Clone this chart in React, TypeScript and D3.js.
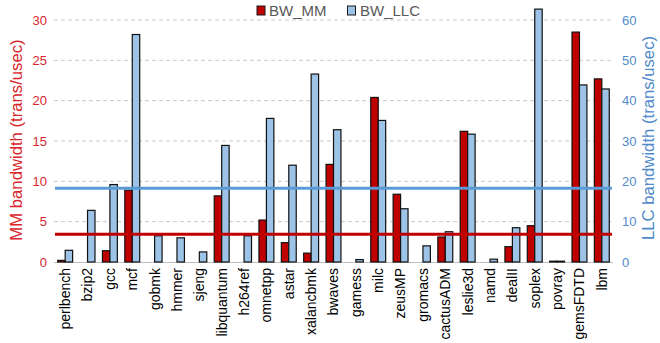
import React from "react";
import * as d3 from "d3";

const categories = ["perlbench","bzip2","gcc","mcf","gobmk","hmmer","sjeng","libquantum","h264ref","omnetpp","astar","xalancbmk","bwaves","gamess","milc","zeusMP","gromacs","cactusADM","leslie3d","namd","dealII","soplex","povray","gemsFDTD","lbm"];
const bwMM = [0.2,0,1.4,8.9,0,0,0,8.2,0,5.2,2.4,1.1,12.1,0,20.4,8.4,0,3.1,16.2,0,1.9,4.5,0.1,28.5,22.7];
const bwLLC = [2.9,12.8,19.2,56.4,6.5,6.0,2.5,28.9,6.5,35.6,24.0,46.6,32.8,0.6,35.1,13.2,4.0,7.5,31.7,0.7,8.5,62.7,0.2,43.9,42.9];
const mmTicks = [0,5,10,15,20,25,30];
const llcTicks = [0,10,20,30,40,50,60];
const mmAvg = 3.44;
const llcAvg = 18.3;

const W = 660, H = 343;
const left = 54, right = 613, top = 20, bottom = 262;
const RED = "#C00000", BLUE_FILL = "#9DC3E6", BLUE = "#5B9BD5";
const RED_TEXT = "#D9262B", BLUE_TEXT = "#4F8ACB";
const FONT = "'Liberation Sans', Arial, sans-serif";

export default function App() {
  const x = d3.scaleBand().domain(categories).range([left, right]).paddingInner(0).paddingOuter(0);
  const inner = d3.scaleBand().domain(["mm","llc"]).range([0, x.bandwidth()]).paddingInner(0).paddingOuter(0.5);
  const yL = d3.scaleLinear().domain([0, 30]).range([bottom, top]);
  const yR = d3.scaleLinear().domain([0, 60]).range([bottom, top]);
  const bw = inner.bandwidth();
  return (
    <svg width={W} height={H} style={{ position: "absolute", left: 0, top: 0, background: "#fff" }} fontFamily={FONT}>
      {mmTicks.slice(1).map(t => (
        <line key={t} x1={left} x2={right} y1={yL(t)} y2={yL(t)} stroke="#C8C8C8" strokeWidth={1} strokeDasharray="4,3" />
      ))}
      <line x1={left} x2={right} y1={bottom + 0.5} y2={bottom + 0.5} stroke="#BFBFBF" strokeWidth={1} />
      {categories.map((c, i) => (
        <g key={c}>
          <rect x={(x(c) as number) + (inner("mm") as number)} y={yL(bwMM[i])} width={bw} height={bottom - yL(bwMM[i])} fill={RED} stroke="#111" strokeWidth={1.2} />
          <rect x={(x(c) as number) + (inner("llc") as number)} y={yR(bwLLC[i])} width={bw} height={bottom - yR(bwLLC[i])} fill={BLUE_FILL} stroke="#111" strokeWidth={1.2} />
        </g>
      ))}
      <line x1={left + 1} x2={right - 1} y1={yL(mmAvg)} y2={yL(mmAvg)} stroke={RED} strokeWidth={3} />
      <line x1={left + 1} x2={right - 1} y1={yR(llcAvg)} y2={yR(llcAvg)} stroke={BLUE} strokeWidth={3} />
      {mmTicks.map(t => (
        <text key={t} x={47} y={yL(t)} dy="0.35em" textAnchor="end" fontSize={13} fill={RED_TEXT}>{t}</text>
      ))}
      {llcTicks.map(t => (
        <text key={t} x={622} y={yR(t)} dy="0.35em" textAnchor="start" fontSize={13} fill={BLUE_TEXT}>{t}</text>
      ))}
      {categories.map(c => (
        <text key={c} transform={`translate(${(x(c) as number) + x.bandwidth() / 2},${268}) rotate(-90)`} textAnchor="end" dy="0.35em" fontSize={14} fill="#000">{c}</text>
      ))}
      <text transform={`translate(16,140) rotate(-90)`} textAnchor="middle" dy="0.35em" fontSize={16.7} fill={RED_TEXT}>MM bandwidth (trans/usec)</text>
      <text transform={`translate(648,138) rotate(-90)`} textAnchor="middle" dy="0.35em" fontSize={16.7} fill={BLUE_TEXT}>LLC bandwidth (trans/usec)</text>
      <rect x={257} y={6} width={8} height={9} fill={RED} stroke="#1a1a1a" strokeWidth={1} />
      <text x={269} y={10.5} dy="0.35em" fontSize={15} fill="#595959">BW_MM</text>
      <rect x={347.5} y={6} width={8} height={9} fill={BLUE_FILL} stroke="#1a1a1a" strokeWidth={1} />
      <text x={360} y={10.5} dy="0.35em" fontSize={15} fill="#595959">BW_LLC</text>
    </svg>
  );
}
